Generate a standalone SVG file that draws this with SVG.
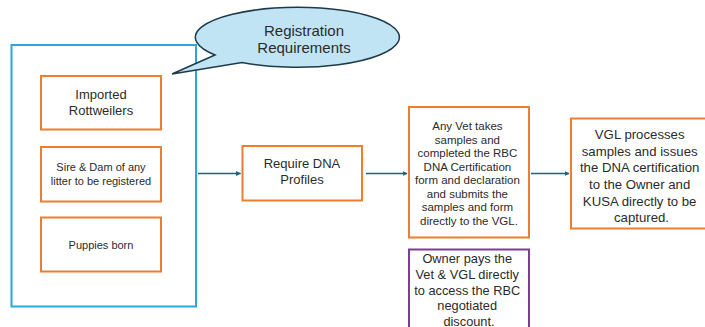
<svg xmlns="http://www.w3.org/2000/svg" width="705" height="327" viewBox="0 0 705 327">
<defs>
<marker id="ah" viewBox="0 0 10 10" refX="9" refY="5" markerWidth="5" markerHeight="5" orient="auto" markerUnits="userSpaceOnUse">
<path d="M0,0 L10,5 L0,10 z" fill="#1F5F80"/>
</marker>
<style>
.ob{fill:#fff;stroke:#ED7D31;stroke-width:2}
.pb{fill:#fff;stroke:#7B3F96;stroke-width:2}
.t{font-family:"Liberation Sans",Arial,sans-serif;fill:#2b2b2b;text-anchor:middle}
.c{stroke:#1F5F80;stroke-width:1.5;fill:none;marker-end:url(#ah)}
</style>
</defs>
<rect width="705" height="327" fill="#fff"/>
<g id="container">
<rect x="11.5" y="45" width="184.5" height="261.5" fill="none" stroke="#2AA7DC" stroke-width="2"/>
</g>
<g id="callout">
<path d="M215,55 A102,30 0 1 1 242,62.5 L172,74 Z" fill="#C1E4F5" stroke="#1E3A48" stroke-width="1.5" stroke-linejoin="miter"/>
<text class="t" x="304" y="36" font-size="15">Registration</text>
<text class="t" x="304" y="53" font-size="15">Requirements</text>
</g>
<g id="imported">
<rect class="ob" x="41" y="76" width="120" height="53.5"/>
<text class="t" x="101" y="99" font-size="13">Imported</text>
<text class="t" x="101" y="115" font-size="13">Rottweilers</text>
</g>
<g id="siredam">
<rect class="ob" x="41" y="147" width="120" height="54.5"/>
<text class="t" x="101" y="171" font-size="11">Sire &amp; Dam of any</text>
<text class="t" x="101" y="185" font-size="11">litter to be registered</text>
</g>
<g id="puppies">
<rect class="ob" x="41" y="217.5" width="120" height="54"/>
<text class="t" x="101" y="249" font-size="11">Puppies born</text>
</g>
<g id="requiredna">
<rect class="ob" x="242.5" y="146" width="119.5" height="54.5"/>
<text class="t" x="302" y="168" font-size="13">Require DNA</text>
<text class="t" x="302" y="184" font-size="13">Profiles</text>
</g>
<g id="vet">
<rect class="ob" x="409" y="107" width="120" height="130.5"/>
<text class="t" font-size="11.5">
<tspan x="469" y="130">Any Vet takes</tspan>
<tspan x="469" y="143.5">samples and</tspan>
<tspan x="469" y="157">completed the RBC</tspan>
<tspan x="469" y="170.5">DNA Certification</tspan>
<tspan x="469" y="184">form and declaration</tspan>
<tspan x="469" y="197.5">and submits the</tspan>
<tspan x="469" y="211">samples and form</tspan>
<tspan x="469" y="224.5">directly to the VGL.</tspan>
</text>
</g>
<g id="vgl">
<rect class="ob" x="571" y="118.5" width="135" height="110"/>
<text class="t" font-size="13.2">
<tspan x="641.5" y="138.5">VGL processes</tspan>
<tspan x="641.5" y="155.5">samples and issues</tspan>
<tspan x="641.5" y="172">the DNA certification</tspan>
<tspan x="641.5" y="189">to the Owner and</tspan>
<tspan x="641.5" y="205.5">KUSA directly to be</tspan>
<tspan x="641.5" y="222">captured.</tspan>
</text>
</g>
<g id="owner">
<rect class="pb" x="409" y="249.5" width="120" height="90"/>
<text class="t" font-size="12.8">
<tspan x="469" y="263">Owner pays the</tspan>
<tspan x="469" y="279">Vet &amp; VGL directly</tspan>
<tspan x="469" y="294.5">to access the RBC</tspan>
<tspan x="469" y="310">negotiated</tspan>
<tspan x="469" y="325.5">discount.</tspan>
</text>
</g>
<g id="connectors">
<line class="c" x1="198" y1="173.5" x2="240.5" y2="173.5"/>
<line class="c" x1="366" y1="173.5" x2="407" y2="173.5"/>
<line class="c" x1="531" y1="173.5" x2="569" y2="173.5"/>
</g>
</svg>
